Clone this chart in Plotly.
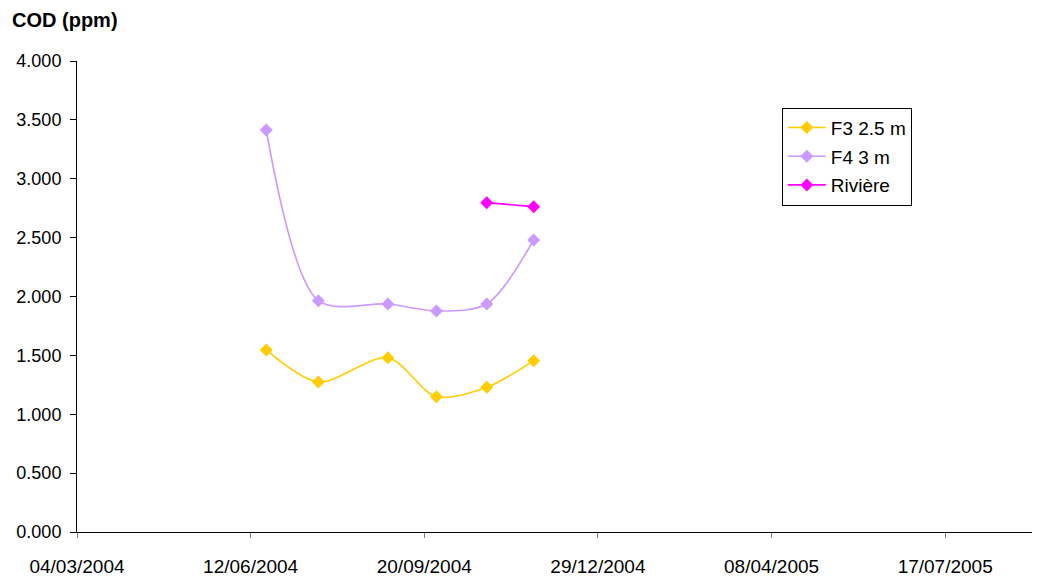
import plotly.graph_objects as go

# Sampling dates (day/month/year) and COD readings in ppm
dates_f3 = ["2004-06-21", "2004-07-21", "2004-08-30", "2004-09-27", "2004-10-26", "2004-11-22"]
cod_f3 = [1.546, 1.274, 1.480, 1.149, 1.229, 1.455]

dates_f4 = ["2004-06-21", "2004-07-21", "2004-08-30", "2004-09-27", "2004-10-26", "2004-11-22"]
cod_f4 = [3.414, 1.964, 1.936, 1.877, 1.936, 2.480]

dates_riv = ["2004-10-26", "2004-11-22"]
cod_riv = [2.797, 2.763]

x_ticks = ["2004-03-04", "2004-06-12", "2004-09-20", "2004-12-29", "2005-04-08", "2005-07-17"]
x_range = ["2004-03-04", "2005-09-05"]
y_ticks = [0, 0.5, 1.0, 1.5, 2.0, 2.5, 3.0, 3.5, 4.0]

FONT = "Liberation Sans, Arial, sans-serif"

fig = go.Figure()

series = [
    ("F3 2.5 m", dates_f3, cod_f3, "#FFCC00", "spline"),
    ("F4 3 m", dates_f4, cod_f4, "#CC99FF", "spline"),
    ("Rivière", dates_riv, cod_riv, "#FF00FF", "linear"),
]
for name, xs, ys, color, shape in series:
    fig.add_trace(go.Scatter(
        x=xs, y=ys, name=name, mode="lines+markers",
        line=dict(color=color, width=1.6, shape=shape, smoothing=0.85),
        marker=dict(symbol="diamond", size=10, color=color),
        legendgroup=name,
    ))

fig.update_layout(
    width=1044, height=576,
    margin=dict(l=77, r=12, t=61, b=44),
    paper_bgcolor="white", plot_bgcolor="white",
    font=dict(family=FONT, size=18, color="black"),
    title=dict(text="<b>COD (ppm)</b>", x=12 / 1044, xanchor="left",
               y=1 - 20 / 576, yanchor="middle", xref="container", yref="container",
               font=dict(family=FONT, size=20, color="black")),
    legend=dict(x=0.738, y=0.901, xanchor="left", yanchor="top",
                bordercolor="black", borderwidth=1, bgcolor="white",
                font=dict(family=FONT, size=19, color="black"),
                tracegroupgap=1, itemwidth=38),
    showlegend=True,
)

fig.update_xaxes(
    type="date", range=x_range, tickvals=x_ticks, tickformat="%d/%m/%Y",
    showline=True, linecolor="black", linewidth=1, showgrid=False, zeroline=False,
    ticks="outside", ticklen=5, tickcolor="#808080", automargin=False,
    tickfont=dict(family=FONT, size=19, color="black"), ticklabelstandoff=12,
)
fig.update_yaxes(
    range=[0, 4], tickvals=y_ticks, tickformat=".3f",
    showline=True, linecolor="black", linewidth=1, showgrid=False, zeroline=False,
    ticks="outside", ticklen=6, tickcolor="black", automargin=False,
    tickfont=dict(family=FONT, size=18, color="black"), ticklabelstandoff=5,
)

fig.write_html("out.html")
